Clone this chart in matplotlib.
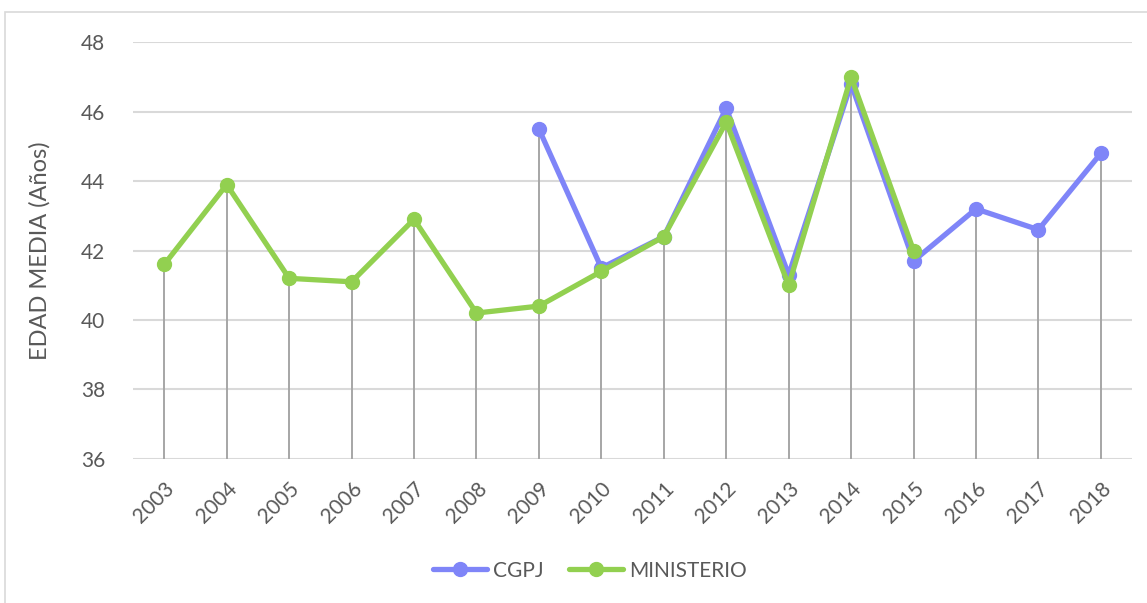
import numpy as np
import matplotlib.pyplot as plt
from matplotlib.patches import Rectangle

# data
years = [2003, 2004, 2005, 2006, 2007, 2008, 2009, 2010,
         2011, 2012, 2013, 2014, 2015, 2016, 2017, 2018]
cgpj = [np.nan, np.nan, np.nan, np.nan, np.nan, np.nan, 45.5, 41.5,
        42.4, 46.1, 41.3, 46.8, 41.7, 43.2, 42.6, 44.8]
ministerio = [41.6, 43.9, 41.2, 41.1, 42.9, 40.2, 40.4, 41.4,
              42.4, 45.7, 41.0, 47.0, 42.0, np.nan, np.nan, np.nan]
y_ticks = [36, 38, 40, 42, 44, 46, 48]

plt.rcParams['font.family'] = ['Lato', 'DejaVu Sans']

fig = plt.figure(figsize=(11.47, 6.03), dpi=100)
ax = fig.add_axes([0.116, 0.239, 0.871, 0.691])

x = np.arange(len(years))
top = np.fmax(np.array(cgpj), np.array(ministerio))

# gridlines
for t in y_ticks:
    ax.axhline(t, color='#d9d9d9', lw=1.5, zorder=0)

# drop lines
ax.vlines(x, y_ticks[0], top, color='#a6a6a6', lw=1.4, zorder=1)

ax.plot(x, cgpj, color='#7f85f8', lw=3.8, marker='o', ms=10,
        label='CGPJ', zorder=3, solid_capstyle='round')
ax.plot(x, ministerio, color='#92d050', lw=3.8, marker='o', ms=10,
        label='MINISTERIO', zorder=4, solid_capstyle='round')

ax.set_xlim(-0.5, len(years) - 0.5)
ax.set_ylim(36, 48)
ax.set_yticks(y_ticks)
ax.set_yticklabels([str(t) for t in y_ticks])
ax.set_xticks(x)
ax.set_xticklabels([str(y) for y in years], rotation=45, ha='right',
                   rotation_mode='anchor')
ax.tick_params(length=0, labelsize=15, colors='#595959')
ax.tick_params(axis='y', pad=20)
ax.tick_params(axis='x', pad=14)
for s in ax.spines.values():
    s.set_visible(False)

ax.set_ylabel('EDAD MEDIA (Años)', fontsize=17, color='#595959', labelpad=22)

ax.legend(loc='center', bbox_to_anchor=(0.457, -0.268), ncol=2, frameon=False,
          fontsize=15, labelcolor='#595959', handlelength=2.6,
          handletextpad=0.3, columnspacing=1.2)

# chart area border
fig.patches.append(Rectangle((5 / 1147, -0.1), 1.2, 1 - 12 / 603 + 0.1,
                             transform=fig.transFigure, fill=False,
                             edgecolor='#d9d9d9', lw=1.2))

fig.savefig('out.png', dpi=100)
